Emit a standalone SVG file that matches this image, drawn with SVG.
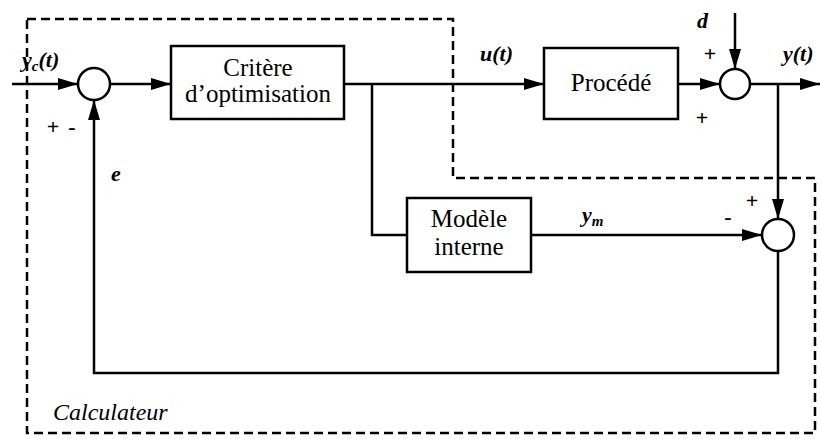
<svg xmlns="http://www.w3.org/2000/svg" width="821" height="439" viewBox="0 0 821 439">
<defs>
<style>
.ln{fill:none;stroke:#000;stroke-width:2.5}
.box{fill:#fff;stroke:#000;stroke-width:2.5}
.sum{fill:#fff;stroke:#000;stroke-width:2.5}
.dash{fill:none;stroke:#000;stroke-width:2.5;stroke-dasharray:9 5}
.t{font-size:25px;text-anchor:middle}
.lab{font-size:22px;font-style:italic;font-weight:bold}
.sg{font-size:22px;font-weight:bold;text-anchor:middle}
.cal{font-size:24px;font-style:italic}
</style>
<marker id="ar" markerUnits="userSpaceOnUse" markerWidth="20" markerHeight="12" refX="20" refY="6" orient="auto">
<path d="M0,0 L20,6 L0,12 Z" fill="#000"/>
</marker>
</defs>
<rect width="821" height="439" fill="#fff"/>
<path class="dash" d="M27,19 H453 V178 H815 V433 H27 Z"/>
<g id="connectors">
<path class="ln" d="M12,84 H78" marker-end="url(#ar)"/>
<path class="ln" d="M110,84 H171" marker-end="url(#ar)"/>
<path class="ln" d="M344,84 H544" marker-end="url(#ar)"/>
<path class="ln" d="M372,84 V235 H407"/>
<path class="ln" d="M678,84 H720" marker-end="url(#ar)"/>
<path class="ln" d="M735,13 V69" marker-end="url(#ar)"/>
<path class="ln" d="M750,84 H820" marker-end="url(#ar)"/>
<path class="ln" d="M778,84 V219" marker-end="url(#ar)"/>
<path class="ln" d="M531,235 H762" marker-end="url(#ar)"/>
<path class="ln" d="M778,251 V373 H94 V100" marker-end="url(#ar)"/>
</g>
<g font-family="Liberation Serif, DejaVu Serif, serif" fill="#000">
<g id="sum1"><circle class="sum" cx="94" cy="84" r="16"/></g>
<g id="critere">
<rect class="box" x="171" y="46" width="173" height="73"/>
<text class="t" x="258" y="76">Critère</text>
<text class="t" x="258" y="102">d’optimisation</text>
</g>
<g id="procede">
<rect class="box" x="544" y="48" width="134" height="71"/>
<text class="t" x="611" y="91">Procédé</text>
</g>
<g id="sum3"><circle class="sum" cx="735" cy="84" r="15"/></g>
<g id="modele">
<rect class="box" x="407" y="198" width="124" height="74"/>
<text class="t" x="469" y="227">Modèle</text>
<text class="t" x="469" y="255">interne</text>
</g>
<g id="sum2"><circle class="sum" cx="778" cy="235" r="16"/></g>
<g id="labels">
<text class="lab" x="22" y="67">y<tspan font-size="15" dy="4">c</tspan><tspan dy="-4">(t)</tspan></text>
<text class="lab" x="480" y="61">u(t)</text>
<text class="lab" x="783" y="61">y(t)</text>
<text class="lab" x="697" y="28">d</text>
<text class="lab" x="111" y="181">e</text>
<text class="lab" x="582" y="222">y<tspan font-size="15" dy="4">m</tspan></text>
<text class="sg" x="710" y="61">+</text>
<text class="sg" x="702" y="125">+</text>
<text class="sg" x="752" y="208">+</text>
<text class="sg" x="728" y="224">-</text>
<text class="sg" x="53" y="134">+</text>
<text class="sg" x="72" y="134">-</text>
<text class="cal" x="53" y="420">Calculateur</text>
</g>
</g>
</svg>
